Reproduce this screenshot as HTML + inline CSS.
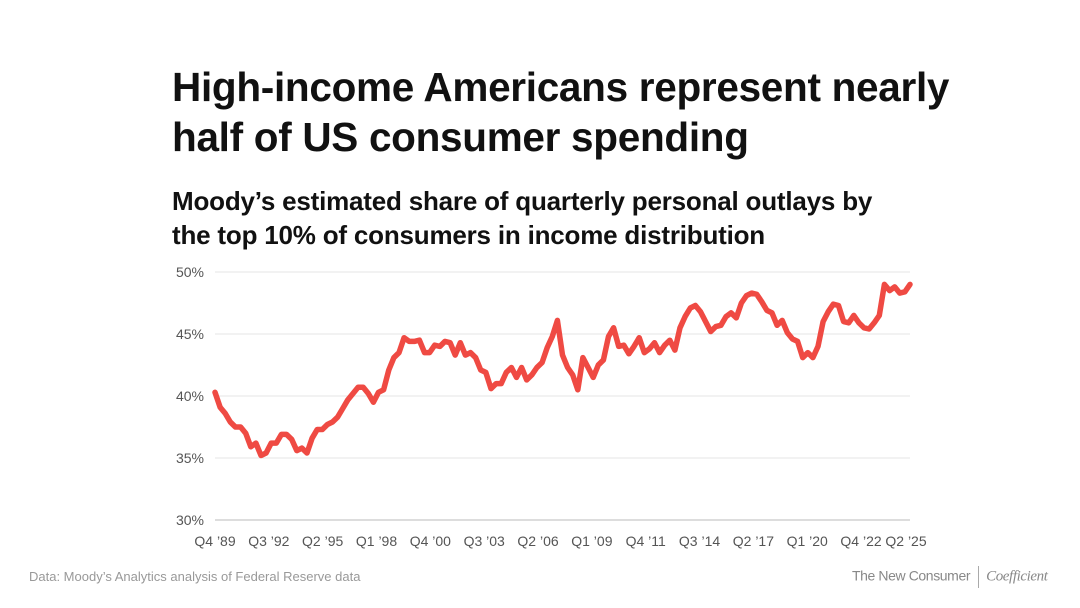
<!DOCTYPE html>
<html><head><meta charset="utf-8"><style>
body{margin:0;background:#fff;font-family:"Liberation Sans",sans-serif;}
#wrap{position:relative;width:1080px;height:608px;overflow:hidden;background:#fff;}
.t{position:absolute;left:172px;color:#111;font-weight:bold;white-space:nowrap;}
</style></head><body>
<div id="wrap">
<div class="t" style="top:62px;font-size:40.5px;line-height:50px;letter-spacing:-0.3px">High-income Americans represent nearly<br>half of US consumer spending</div>
<div class="t" style="top:184px;font-size:26px;line-height:34px;letter-spacing:-0.2px">Moody’s estimated share of quarterly personal outlays by<br>the top 10% of consumers in income distribution</div>
<svg id="chart" width="1080" height="608" style="position:absolute;left:0;top:0"></svg>
<div style="position:absolute;left:29px;top:569px;font-size:13px;color:#999">Data: Moody’s Analytics analysis of Federal Reserve data</div>
<div style="position:absolute;left:852px;top:566px;font-size:14px;color:#888;letter-spacing:-0.4px">The New Consumer <span style="display:inline-block;width:1px;height:22px;background:#aaa;vertical-align:middle;margin:0 4px"></span> <span style="font-family:'Liberation Serif',serif;font-style:italic;font-size:15px">Coefficient</span></div>
</div>
<script>
const yTicks=[30,35,40,45,50];
const xLabels=["Q4 ’89","Q3 ’92","Q2 ’95","Q1 ’98","Q4 ’00","Q3 ’03","Q2 ’06","Q1 ’09","Q4 ’11","Q3 ’14","Q2 ’17","Q1 ’20","Q4 ’22","Q2 ’25"];
const xLabelQuarters=[0,11,22,33,44,55,66,77,88,99,110,121,132,142];
const shareValues=[40.3,39.1,38.6,37.9,37.5,37.5,37.0,35.9,36.2,35.2,35.4,36.2,36.2,36.9,36.9,36.5,35.6,35.8,35.4,36.6,37.3,37.3,37.7,37.9,38.3,39.0,39.7,40.2,40.7,40.7,40.2,39.5,40.3,40.5,42.1,43.1,43.5,44.7,44.4,44.4,44.5,43.5,43.5,44.1,44.0,44.4,44.3,43.3,44.3,43.3,43.5,43.1,42.1,41.9,40.6,41.0,41.0,41.9,42.3,41.5,42.3,41.3,41.7,42.3,42.7,43.9,44.8,46.1,43.3,42.3,41.7,40.5,43.1,42.3,41.5,42.5,42.9,44.8,45.5,44.0,44.1,43.4,44.0,44.7,43.5,43.8,44.3,43.5,44.1,44.5,43.7,45.5,46.4,47.1,47.3,46.8,46.0,45.2,45.6,45.7,46.4,46.7,46.3,47.5,48.1,48.3,48.2,47.6,46.9,46.7,45.7,46.1,45.1,44.6,44.4,43.1,43.5,43.1,44.0,46.0,46.8,47.4,47.3,46.0,45.9,46.5,45.9,45.5,45.4,45.9,46.5,49.0,48.5,48.8,48.3,48.4,49.0];
const NS="http://www.w3.org/2000/svg";
const svg=document.getElementById('chart');
const X0=215,X1=910,Y0=520,Y1=272,QMAX=142;
const xq=q=>X0+(X1-X0)*q/QMAX;
const y=v=>Y0-(v-30)/(50-30)*(Y0-Y1);
function mk(t,a){const e=document.createElementNS(NS,t);for(const k in a)e.setAttribute(k,a[k]);svg.appendChild(e);return e;}
yTicks.forEach(v=>{
 const l=mk('line',{x1:X0,x2:X1,y1:y(v),y2:y(v),stroke:v===30?'#bbb':'#e4e4e4','stroke-width':1});
 
 
 const t=mk('text',{x:204,y:y(v)+5,'text-anchor':'end','font-size':14,fill:'#555','font-family':'Liberation Sans, sans-serif'});
 t.textContent=v+'%';
 
 
});
xLabels.forEach((s,i)=>{
 const q=xLabelQuarters[i];
 const t=mk('text',{x:xq(q)-(i===13?4:0),y:546,'text-anchor':'middle','font-size':14,fill:'#555','font-family':'Liberation Sans, sans-serif'});
 t.textContent=s;
 
 
});
const n=shareValues.length;
const pts=shareValues.map((v,i)=>xq(i*QMAX/(n-1)).toFixed(1)+','+y(v).toFixed(1)).join(' ');
const pl=mk('polyline',{points:pts,fill:'none',stroke:'#ef4a43','stroke-width':5.5,'stroke-linejoin':'round','stroke-linecap':'round'});


</script>
</body></html>
